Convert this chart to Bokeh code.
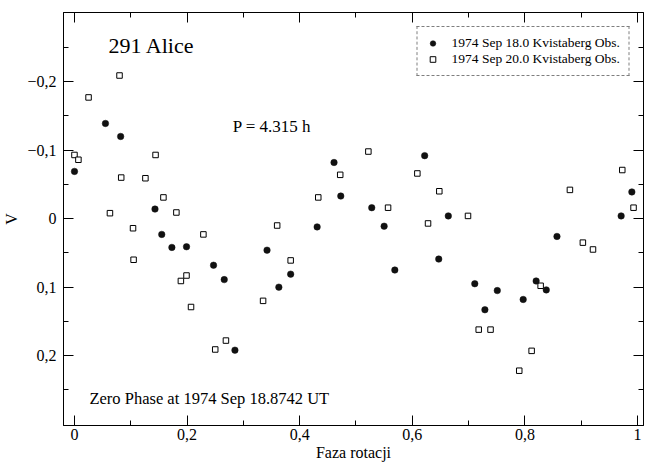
from bokeh.plotting import figure
from bokeh.models import (Range1d, LinearAxis, FixedTicker, CustomJSTickFormatter,
                          Label, Legend, LegendItem, ColumnDataSource)
from bokeh.embed import file_html
from bokeh.resources import INLINE

# ---- data ----
sep18_phase = [0.000, 0.055, 0.082, 0.143, 0.155, 0.173, 0.199, 0.247, 0.266, 0.285,
               0.342, 0.363, 0.384, 0.431, 0.461, 0.473, 0.528, 0.550, 0.569, 0.622,
               0.647, 0.664, 0.711, 0.729, 0.751, 0.797, 0.820, 0.838, 0.857, 0.971, 0.990]
sep18_v = [-0.069, -0.139, -0.120, -0.014, 0.023, 0.042, 0.041, 0.068, 0.089, 0.192,
           0.046, 0.100, 0.081, 0.012, -0.082, -0.033, -0.016, 0.011, 0.075, -0.092,
           0.059, -0.004, 0.095, 0.133, 0.105, 0.118, 0.091, 0.104, 0.026, -0.004, -0.039]

sep20_phase = [0.000, 0.007, 0.025, 0.080, 0.063, 0.083, 0.104, 0.105, 0.126, 0.144,
               0.158, 0.181, 0.189, 0.199, 0.207, 0.229, 0.250, 0.269, 0.335, 0.360,
               0.384, 0.433, 0.472, 0.522, 0.557, 0.609, 0.628, 0.648, 0.699, 0.718,
               0.739, 0.790, 0.812, 0.828, 0.880, 0.903, 0.921, 0.973, 0.993]
sep20_v = [-0.093, -0.086, -0.177, -0.209, -0.008, -0.060, 0.014, 0.060, -0.059, -0.093,
           -0.031, -0.009, 0.091, 0.083, 0.129, 0.023, 0.191, 0.178, 0.120, 0.010,
           0.061, -0.031, -0.064, -0.098, -0.016, -0.066, 0.007, -0.040, -0.004, 0.162,
           0.162, 0.222, 0.193, 0.098, -0.042, 0.035, 0.045, -0.071, -0.016]

x_ticks = [0, 0.2, 0.4, 0.6, 0.8, 1.0]
x_tick_labels = ["0", "0,2", "0,4", "0,6", "0,8", "1"]
x_minor = [0.1, 0.3, 0.5, 0.7, 0.9]
y_ticks = [-0.2, -0.1, 0, 0.1, 0.2]
y_tick_labels = ["\u22120,2", "\u22120,1", "0", "0,1", "0,2"]
y_minor = [-0.25, -0.15, -0.05, 0.05, 0.15, 0.25]

legend_labels = ["1974 Sep 18.0 Kvistaberg Obs.", "1974 Sep 20.0 Kvistaberg Obs."]
title_text = "291 Alice"
period_text = "P = 4.315 h"
zero_text = "Zero Phase at 1974 Sep 18.8742 UT"
x_title = "Faza rotacji"
y_title = "V"

FONT = "Liberation Serif"

p = figure(width=645, height=463, output_backend="svg", toolbar_location=None,
           x_range=Range1d(-0.0195, 1.0107), y_range=Range1d(0.302, -0.301))
p.min_border = 0
p.min_border_left = 63
p.min_border_right = 2
p.min_border_top = 12
p.min_border_bottom = 38
p.xgrid.visible = False
p.ygrid.visible = False
p.outline_line_color = "black"
p.outline_line_width = 1
p.background_fill_color = "white"
p.border_fill_color = "white"

fmt_code = """
let best = 0, d = 1e9;
for (let i = 0; i < tvals.length; i++) {
  const e = Math.abs(tvals[i] - tick);
  if (e < d) { d = e; best = i; }
}
return tlabels[best];
"""

def style_axis(ax, tk, minor, labels=None):
    ax.ticker = FixedTicker(ticks=tk, minor_ticks=minor)
    ax.axis_line_color = "black"
    ax.axis_line_width = 1
    ax.major_tick_in = 10
    ax.major_tick_out = 0
    ax.minor_tick_in = 5
    ax.minor_tick_out = 0
    ax.major_tick_line_color = "black"
    ax.minor_tick_line_color = "black"
    ax.major_label_text_font = FONT
    ax.major_label_text_font_size = "16px"
    ax.major_label_text_color = "black"
    ax.axis_label_text_font = FONT
    ax.axis_label_text_font_style = "normal"
    ax.axis_label_text_color = "black"
    if labels is not None:
        ax.formatter = CustomJSTickFormatter(args=dict(tvals=tk, tlabels=labels), code=fmt_code)
    else:
        ax.axis_label = None
        ax.formatter = CustomJSTickFormatter(code="return ''")
        ax.major_label_standoff = 0
        ax.axis_label_standoff = 0
        ax.major_label_text_color = None

xa = p.xaxis[0]
style_axis(xa, x_ticks, x_minor, x_tick_labels)
xa.axis_label = x_title
xa.axis_label_text_font_size = "16px"
xa.major_label_standoff = 3
xa.axis_label_standoff = 1

ya = p.yaxis[0]
style_axis(ya, y_ticks, y_minor, y_tick_labels)
ya.axis_label = y_title
ya.axis_label_text_font_size = "16px"
ya.major_label_standoff = 7
ya.axis_label_standoff = 4

top = LinearAxis()
style_axis(top, x_ticks, x_minor)
p.add_layout(top, "above")
right = LinearAxis()
style_axis(right, y_ticks, y_minor)
p.add_layout(right, "right")

src18 = ColumnDataSource(dict(x=sep18_phase, y=sep18_v))
src20 = ColumnDataSource(dict(x=sep20_phase, y=sep20_v))

r20 = p.scatter("x", "y", source=src20, marker="square", size=5.5,
                fill_color="white", line_color="black", line_width=1)
r18 = p.scatter("x", "y", source=src18, marker="circle", size=6.5,
                fill_color="#111111", line_color="#111111", line_width=0.5)

legend = Legend(items=[LegendItem(label=legend_labels[0], renderers=[r18]),
                       LegendItem(label=legend_labels[1], renderers=[r20])],
                location="top_right", margin=14, padding=8, spacing=0,
                glyph_width=14, glyph_height=14, label_height=14, label_standoff=12,
                label_text_font=FONT, label_text_font_size="13.5px", label_text_color="black",
                border_line_color="black", border_line_width=1, border_line_dash="dotted",
                background_fill_color="white", background_fill_alpha=1)
p.add_layout(legend)

p.add_layout(Label(x=0.0604, y=-0.253, text=title_text, text_font=FONT, text_color="black",
                   text_font_size="22px", text_baseline="middle", text_align="left"))
p.add_layout(Label(x=0.281, y=-0.134, text=period_text, text_font=FONT, text_color="black",
                   text_font_size="17px", text_baseline="middle", text_align="left"))
p.add_layout(Label(x=0.0266, y=0.263, text=zero_text, text_font=FONT, text_color="black",
                   text_font_size="16.5px", text_baseline="middle", text_align="left"))

open("out.html", "w").write(file_html(p, INLINE))
